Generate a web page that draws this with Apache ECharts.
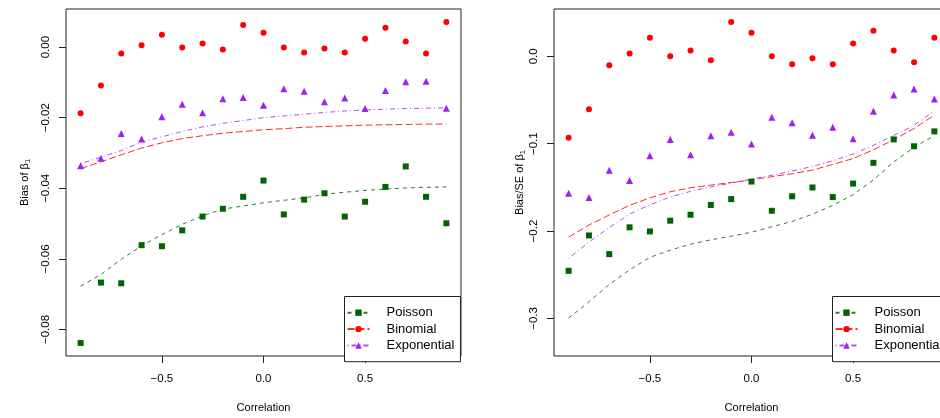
<!DOCTYPE html>
<html>
<head>
<meta charset="utf-8">
<script src="https://cdn.jsdelivr.net/npm/echarts@6/dist/echarts.min.js"></script>
<style>
html,body{margin:0;padding:0;overflow:hidden;background:#fff;width:940px;height:418px;}
#chart{width:960px;height:418px;}
</style>
</head>
<body>
<div id="chart"></div>
<script>
// ---- data ----
var corr = [-0.9,-0.8,-0.7,-0.6,-0.5,-0.4,-0.3,-0.2,-0.1,0.0,0.1,0.2,0.3,0.4,0.5,0.6,0.7,0.8,0.9];
var seriesNames = ['Poisson','Binomial','Exponential'];
var xTicks = [-0.5, 0, 0.5];
var yTicksLeft = [-0.08, -0.06, -0.04, -0.02, 0.00];
var yTicksRight = [-0.3, -0.2, -0.1, 0.0];

// Left panel: Bias of beta1
var biasPoissonPts  = [-0.0838,-0.0667,-0.0669,-0.0561,-0.0564,-0.0519,-0.0480,-0.0458,-0.0424,-0.0378,-0.0474,-0.0432,-0.0414,-0.0480,-0.0438,-0.0396,-0.0338,-0.0424,-0.0499];
var biasBinomialPts = [-0.0187,-0.0109,-0.0018,0.0005,0.0035,-0.0001,0.0010,-0.0007,0.0063,0.0041,-0.0001,-0.0015,-0.0004,-0.0015,0.0024,0.0055,0.0016,-0.0018,0.0071];
var biasExpPts      = [-0.0336,-0.0315,-0.0245,-0.0260,-0.0197,-0.0162,-0.0186,-0.0146,-0.0143,-0.0165,-0.0118,-0.0125,-0.0155,-0.0144,-0.0174,-0.0123,-0.0098,-0.0097,-0.0173];
var biasPoissonFit  = [-0.0677,-0.0644,-0.0601,-0.0563,-0.0531,-0.0502,-0.0478,-0.0459,-0.0450,-0.0441,-0.0434,-0.0427,-0.0417,-0.0411,-0.0406,-0.0402,-0.0399,-0.0397,-0.0396];
var biasBinomialFit = [-0.0344,-0.0325,-0.0305,-0.0286,-0.0271,-0.0259,-0.0251,-0.0244,-0.0239,-0.0234,-0.0231,-0.0227,-0.0225,-0.0223,-0.0221,-0.0220,-0.0219,-0.0218,-0.0218];
var biasExpFit      = [-0.0330,-0.0312,-0.0293,-0.0269,-0.0254,-0.0239,-0.0226,-0.0216,-0.0208,-0.0200,-0.0195,-0.0190,-0.0185,-0.0181,-0.0178,-0.0176,-0.0174,-0.0173,-0.0172];

// Right panel: Bias/SE of beta1
var zPoissonPts  = [-0.2455,-0.2050,-0.2264,-0.1957,-0.2004,-0.1881,-0.1813,-0.1701,-0.1634,-0.1433,-0.1768,-0.1602,-0.1501,-0.1611,-0.1456,-0.1219,-0.0951,-0.1029,-0.0859];
var zBinomialPts = [-0.0932,-0.0606,-0.0101,0.0034,0.0213,0.0000,0.0067,-0.0045,0.0393,0.0269,0.0000,-0.0090,-0.0022,-0.0090,0.0146,0.0292,0.0067,-0.0067,0.0213];
var zExpPts      = [-0.1568,-0.1616,-0.1304,-0.1422,-0.1138,-0.0951,-0.1127,-0.0909,-0.0868,-0.1003,-0.0696,-0.0760,-0.0902,-0.0812,-0.0943,-0.0629,-0.0442,-0.0375,-0.0487];
var zPoissonFit  = [-0.2997,-0.2810,-0.2612,-0.2443,-0.2300,-0.2219,-0.2150,-0.2100,-0.2058,-0.2013,-0.1950,-0.1890,-0.1807,-0.1706,-0.1583,-0.1414,-0.1209,-0.1040,-0.0909];
var zBinomialFit = [-0.2069,-0.1931,-0.1815,-0.1705,-0.1620,-0.1550,-0.1504,-0.1474,-0.1444,-0.1414,-0.1377,-0.1343,-0.1302,-0.1237,-0.1170,-0.1070,-0.0955,-0.0825,-0.0673];
var zExpFit      = [-0.2312,-0.2125,-0.1960,-0.1805,-0.1700,-0.1610,-0.1545,-0.1495,-0.1450,-0.1407,-0.1360,-0.1312,-0.1260,-0.1195,-0.1118,-0.1018,-0.0905,-0.0790,-0.0622];

// ---- styling ----
var FONT = '"Liberation Sans", Arial, Helvetica, sans-serif';
var styles = {
  Poisson:     {color:'#006400', line:'#2f7f2f', symbol:'rect',     size:6, dash:[4,4]},
  Binomial:    {color:'#ff0000', line:'#ff2a2a', symbol:'circle',   size:6, dash:[7,3]},
  Exponential: {color:'#a020f0', line:'#b14ef2', symbol:'triangle', size:7, dash:[1,3,5,3]}
};

function pairs(ys){ return corr.map(function(c,i){ return [c, ys[i]]; }); }
function fmt(d){ return function(v){ var s = Math.abs(v).toFixed(d); return (v < -1e-9 ? '\u2212' : '') + s; }; }

function xAxisFor(gi){
  return {
    gridIndex: gi, type:'value', min:-0.972, max:0.972, position:'bottom',
    name:'Correlation', nameLocation:'middle', nameGap:46,
    nameTextStyle:{fontFamily:FONT, fontSize:11, color:'#000'},
    axisLine:{show:false, onZero:false},
    axisTick:{show:true, length:7, customValues:xTicks, lineStyle:{color:'#222'}},
    axisLabel:{customValues:xTicks, formatter:fmt(1), fontFamily:FONT, fontSize:11.5, color:'#000', margin:17},
    splitLine:{show:false}
  };
}
function yAxisFor(gi, min, max, ticks, dec, nameGap){
  return {
    gridIndex: gi, type:'value', min:min, max:max, position:'left',
    name:'{a|Bias' + (gi===1 ? '/SE' : '') + ' of \u03b2}{s|1}', nameLocation:'middle', nameGap:nameGap, nameRotate:90,
    nameTextStyle:{fontFamily:FONT, fontSize:11, color:'#000',
      rich:{a:{fontFamily:FONT, fontSize:11, color:'#000', lineHeight:14},
            s:{fontFamily:FONT, fontSize:7.5, color:'#000', lineHeight:14, verticalAlign:'bottom', padding:[5,0,0,0]}}},
    axisLine:{show:false, onZero:false},
    axisTick:{show:true, length:7, customValues:ticks, lineStyle:{color:'#222'}},
    axisLabel:{customValues:ticks, formatter:fmt(dec), rotate:90, fontFamily:FONT, fontSize:11.5, color:'#000', margin:14},
    splitLine:{show:false}
  };
}

var series = [];
function addPanel(gi, pts, fits){
  seriesNames.forEach(function(n, k){
    var st = styles[n];
    series.push({
      name:n, type:'line', xAxisIndex:gi, yAxisIndex:gi, data:pairs(fits[k]),
      symbol:st.symbol, symbolSize:st.size, showSymbol:false, smooth:false,
      itemStyle:{color:st.color, opacity:1},
      lineStyle:{color:st.line, width:1, type:st.dash},
      silent:true, z:2
    });
  });
  seriesNames.forEach(function(n, k){
    var st = styles[n];
    series.push({
      name:n + ' points ' + gi, type:'scatter', xAxisIndex:gi, yAxisIndex:gi, data:pairs(pts[k]),
      symbol:st.symbol, symbolSize:st.size,
      itemStyle:{color:st.color, opacity:1},
      silent:true, z:3
    });
  });
}
addPanel(0, [biasPoissonPts, biasBinomialPts, biasExpPts], [biasPoissonFit, biasBinomialFit, biasExpFit]);
addPanel(1, [zPoissonPts, zBinomialPts, zExpPts], [zPoissonFit, zBinomialFit, zExpFit]);

function legendAt(left){
  return {
    data:seriesNames, orient:'vertical', left:left, top:296.5,
    selectedMode:false, backgroundColor:'#fff', borderColor:'#222', borderWidth:1,
    padding:[8,6,8,2], itemGap:0, itemWidth:22, itemHeight:8,
    textStyle:{fontFamily:FONT, fontSize:13, color:'#000', lineHeight:16.4, padding:[0,0,0,12]}
  };
}

var chart = echarts.init(document.getElementById('chart'), null, {renderer:'canvas'});
chart.setOption({
  animation:false,
  backgroundColor:'#fff',
  textStyle:{fontFamily:FONT},
  grid:[
    {left:66, top:9, width:395, height:354, show:true, borderColor:'#222', borderWidth:1, backgroundColor:'transparent', containLabel:false},
    {left:554, top:9, width:395, height:354, show:true, borderColor:'#222', borderWidth:1, backgroundColor:'transparent', containLabel:false}
  ],
  xAxis:[xAxisFor(0), xAxisFor(1)],
  yAxis:[yAxisFor(0, -0.0875, 0.0108, yTicksLeft, 2, 34), yAxisFor(1, -0.343, 0.0542, yTicksRight, 1, 26)],
  legend:[legendAt(344.5), legendAt(832.5)],
  series:series
});
</script>
</body>
</html>
